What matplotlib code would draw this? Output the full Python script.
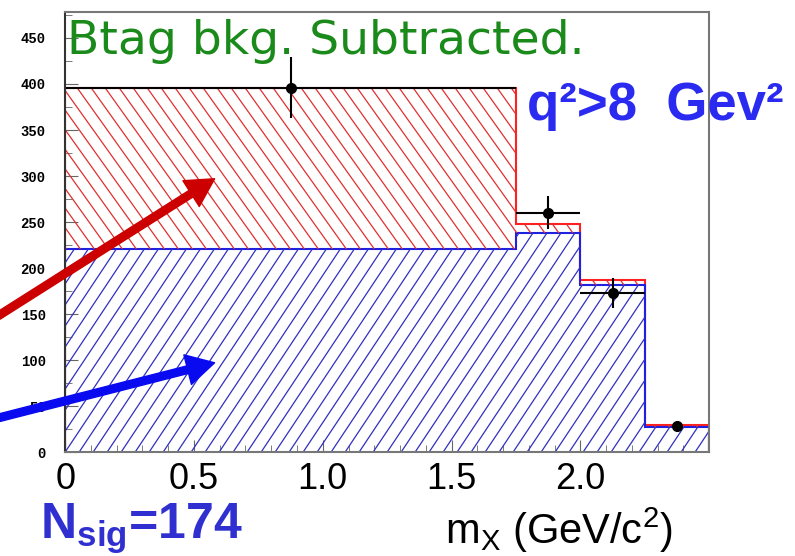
import numpy as np
import matplotlib
matplotlib.use("Agg")
import matplotlib.pyplot as plt
from matplotlib.ticker import MultipleLocator
from matplotlib.collections import LineCollection

# данные гистограмм (бины по m_X)
bin_edges = [0.0, 1.75, 2.0, 2.25, 2.5]
blue_vals = [221, 238, 181, 27]      # нижняя (синяя) компонента
red_vals = [396, 248, 187, 29]       # полная сумма (красная граница)

# точки данных с ошибками
data_x = [0.875, 1.875, 2.125, 2.375]
data_y = [396, 260, 173, 28]
data_yerr = [33, 18, 16, 4]
data_xerr = [0.875, 0.125, 0.125, 0.0]

plt.rcParams['mathtext.fontset'] = 'custom'
plt.rcParams['mathtext.rm'] = 'Liberation Sans'
plt.rcParams['mathtext.bf'] = 'Liberation Sans:bold'

fig = plt.figure(figsize=(7.95, 5.56), dpi=100)
ax = fig.add_axes([0.082, 0.187, 0.81, 0.791])

edges = np.array(bin_edges)
blue = np.array(blue_vals)
red = np.array(red_vals)


def hatch(ax, region, color, slope, step, up=True):
    # косая штриховка под углом, обрезанная по области
    path = region.get_paths()[0]
    segs = []
    for x0 in np.arange(-1.0, 2.0, step):
        if up:
            segs.append([(x0, 0), (x0 + 1 / slope, 1)])
        else:
            segs.append([(x0, 1), (x0 + 1 / slope, 0)])
    lc = LineCollection(segs, colors=color, linewidths=0.9,
                        transform=ax.transAxes)
    ax.add_collection(lc)
    lc.set_clip_path(path, ax.transData)


xs = np.repeat(edges, 2)[1:-1]
reg_red = ax.fill_between(xs, np.repeat(blue, 2), np.repeat(red, 2),
                          facecolor='none', lw=0)
reg_blue = ax.fill_between(xs, 0, np.repeat(blue, 2),
                           facecolor='none', lw=0)
hatch(ax, reg_red, '#e03030', 2.05, 14 / 644, up=False)
hatch(ax, reg_blue, '#3030c0', 2.2, 14 / 644, up=True)

# контуры
ax.stairs(red, edges, color='#ff2020', lw=1.5)
ax.stairs(blue, edges, color='#2020e0', lw=1.5)

ax.errorbar(data_x, data_y, yerr=data_yerr, xerr=data_xerr, fmt='o',
            color='black', ms=7, elinewidth=1.5, capsize=0)

ax.set_xlim(0, 2.5)
ax.set_ylim(0, 478)
ax.xaxis.set_minor_locator(MultipleLocator(0.1))
ax.yaxis.set_major_locator(MultipleLocator(50))
ax.yaxis.set_minor_locator(MultipleLocator(25))
ax.set_xticks([0, 0.5, 1.0, 1.5, 2.0])
ax.set_xticklabels(['0', '0.5', '1.0', '1.5', '2.0'])
ax.tick_params(axis='both', which='both', direction='in', color='#666666')
ax.tick_params(axis='x', which='major', length=9, pad=7, labelsize=26)
ax.tick_params(axis='x', which='minor', length=5)
ax.tick_params(axis='y', which='major', length=9, pad=14, labelsize=10)
ax.tick_params(axis='y', which='minor', length=5)
for lab in ax.get_yticklabels():
    lab.set_fontfamily('Liberation Mono')
    lab.set_fontweight('bold')
for lab in ax.get_xticklabels():
    lab.set_fontfamily('Liberation Sans')
for s in ax.spines.values():
    s.set_color('#777777')
    s.set_linewidth(1.5)
ax.spines['left'].set_color('#333333')

# стрелки
ax.annotate('', xy=(0.58, 297), xytext=(-0.26, 148), annotation_clip=False,
            arrowprops=dict(facecolor='#cc0000', edgecolor='#cc0000',
                            width=5.5, headwidth=22, headlength=20))
ax.annotate('', xy=(0.58, 97), xytext=(-0.26, 37), annotation_clip=False,
            arrowprops=dict(facecolor='#0a0af0', edgecolor='#0a0af0',
                            width=5.5, headwidth=22, headlength=20))

# подписи
ax.text(0.003, 0.905, 'Btag bkg. Subtracted.', transform=ax.transAxes,
        color='#1a8a1a', fontsize=34, family='DejaVu Sans')
fig.text(0.663, 0.785, 'q²>8  Gev²', color='#2a2af0', fontsize=38,
         fontweight='bold', family='Liberation Sans')
fig.text(0.05, 0.03, r'$\mathbf{N_{sig}}$=174', color='#3030d0', fontsize=36,
         fontweight='bold', family='Liberation Sans')
fig.text(0.56, 0.022, r'm$_{\rm X}$ (GeV/c$^2$)', color='black', fontsize=30,
         family='Liberation Sans')

fig.savefig('out.png', dpi=100)
